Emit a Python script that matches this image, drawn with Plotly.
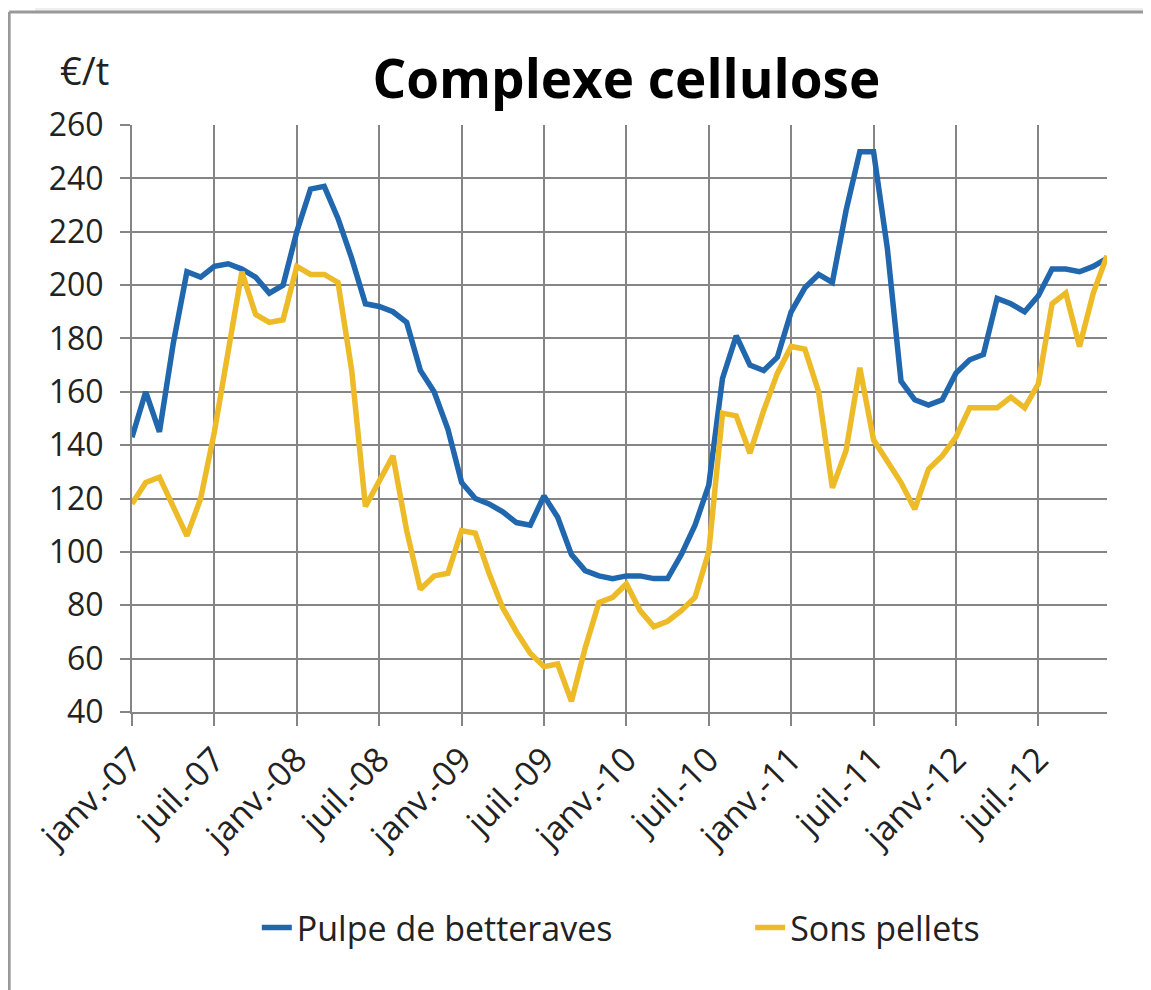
import plotly.graph_objects as go

# mois de janv.-07 à déc.-12
noms_mois = ['janv.', 'févr.', 'mars', 'avr.', 'mai', 'juin',
             'juil.', 'août', 'sept.', 'oct.', 'nov.', 'déc.']
annees = ['07', '08', '09', '10', '11', '12']
mois = [m + '-' + a for a in annees for m in noms_mois]

# Pulpe de betteraves (€/t)
pulpe = [143, 160, 145, 178, 205, 203, 207, 208, 206, 203, 197, 200,
         220, 236, 237, 225, 210, 193, 192, 190, 186, 168, 160, 146,
         126, 120, 118, 115, 111, 110, 121, 113, 99, 93, 91, 90,
         91, 91, 90, 90, 99, 110, 125, 165, 181, 170, 168, 173,
         190, 199, 204, 201, 228, 250, 250, 214, 164, 157, 155, 157,
         167, 172, 174, 195, 193, 190, 196, 206, 206, 205, 207, 210]

# Sons pellets (€/t)
sons = [118, 126, 128, 117, 106, 120, 145, 175, 205, 189, 186, 187,
        207, 204, 204, 201, 168, 117, 127, 136, 108, 86, 91, 92,
        108, 107, 92, 79, 70, 62, 57, 58, 44, 64, 81, 83,
        88, 78, 72, 74, 78, 83, 100, 152, 151, 137, 153, 167,
        177, 176, 160, 124, 138, 169, 142, 134, 126, 116, 131, 136,
        143, 154, 154, 154, 158, 154, 163, 193, 197, 177, 197, 211]

ticks_x = mois[::6]

police = 'Open Sans'
gris = '#858585'

fig = go.Figure()
fig.add_trace(go.Scatter(x=mois, y=pulpe, mode='lines', name='Pulpe de betteraves',
                         line=dict(color='#2067AE', width=5.5), legend='legend'))
fig.add_trace(go.Scatter(x=mois, y=sons, mode='lines', name='Sons pellets',
                         line=dict(color='#EDBA28', width=5.5), legend='legend2'))

# la page ajoute 8 px de marge autour du graphique
fig.update_layout(
    width=1143, height=982,
    margin=dict(l=124, r=44, t=117, b=278),
    paper_bgcolor='white', plot_bgcolor='white',
    font=dict(family=police, color='#222222'),
    title=dict(text='<b>Complexe cellulose</b>', x=0.541, xanchor='center',
               y=0.927, yanchor='middle', font=dict(size=53, color='black')),
    showlegend=True,
    legend=dict(orientation='h', x=0.128, xanchor='left', y=-0.368, yanchor='middle',
                font=dict(size=34)),
    legend2=dict(orientation='h', x=0.634, xanchor='left', y=-0.368, yanchor='middle',
                 font=dict(size=34)),
    xaxis=dict(type='category', range=[0, 71], tickmode='array',
               tickvals=ticks_x, ticktext=ticks_x, tickangle=-45,
               tickfont=dict(size=34), showgrid=True, gridcolor=gris, gridwidth=2,
               ticks='outside', ticklen=12, tickcolor=gris, tickwidth=2,
               showline=True, linecolor=gris, linewidth=2, zeroline=False),
    yaxis=dict(range=[40, 260], dtick=20, tickfont=dict(size=32),
               showgrid=True, gridcolor=gris, gridwidth=2,
               ticks='outside', ticklen=10, tickcolor=gris, tickwidth=2,
               ticklabelstandoff=10,
               showline=True, linecolor=gris, linewidth=2, zeroline=False),
)

fig.add_annotation(text='€/t', xref='paper', yref='paper', x=-0.049, y=1.094,
                   xanchor='center', yanchor='middle', showarrow=False,
                   font=dict(size=38, color='#222222'))

# cadre du graphique
fig.add_shape(type='rect', xref='paper', yref='paper', x0=-0.0995, x1=1.06,
              y0=1.1925, y1=1.22, fillcolor='#efefef', line=dict(width=0), layer='below')
fig.add_shape(type='line', xref='paper', yref='paper', x0=-0.126, x1=1.06,
              y0=1.1925, y1=1.1925, line=dict(color='#999999', width=3))
fig.add_shape(type='line', xref='paper', yref='paper', x0=-0.126, x1=-0.126,
              y0=1.1925, y1=-0.48, line=dict(color='#999999', width=3))

fig.write_html('out.html')
